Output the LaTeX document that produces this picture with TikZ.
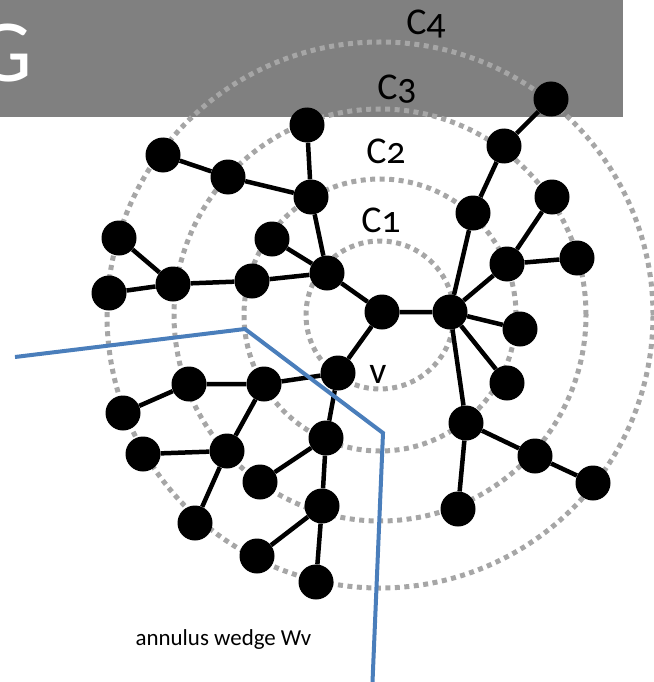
\documentclass[tikz,border=0pt]{standalone}
\usepackage{fontspec}
\setmainfont{Carlito}[Numbers=OldStyle]
\begin{document}
\begin{tikzpicture}[x=1bp,y=-1bp,
  vert/.style={circle,fill=black,minimum size=35bp,inner sep=0pt},
  edge/.style={line width=4.5bp,black},
  ring/.style={line width=5bp,draw={rgb,255:red,166;green,166;blue,166},dash pattern=on 5bp off 4.5bp},
  lab/.style={inner sep=0pt,anchor=base,font=\fontsize{38}{40}\selectfont},
  wedge/.style={line width=4bp,draw={rgb,255:red,74;green,126;blue,187}}]
\useasboundingbox (0,0) rectangle (654,682);
\fill[fill={rgb,255:red,128;green,128;blue,128}] (0,0) rectangle (623,117);
\node[inner sep=0pt,anchor=base east,text=white,font=\fontsize{89}{89}\selectfont] (G) at (33,82) {G};
% rings
\coordinate (ctr) at (380,315);
\draw[ring] (ctr) circle[radius=74bp];
\draw[ring] (ctr) circle[radius=136bp];
\draw[ring] (ctr) circle[radius=206bp];
\draw[ring] (ctr) circle[radius=273bp];
\node[lab] (C1) at (381,232) {C1};
\node[lab] (C2) at (386,163) {C2};
\node[lab] (C3) at (397,100) {C3};
\node[lab] (C4) at (426,35) {C4};
% vertices
\node[vert] (r) at (382,312) {};
\node[vert] (v) at (338,373) {};
\node[vert] (h) at (450,312) {};
\node[vert] (a1) at (473,213) {};
\node[vert] (a2) at (504,146) {};
\node[vert] (a3) at (551,99) {};
\node[vert] (b) at (507,264) {};
\node[vert] (b1) at (552,197) {};
\node[vert] (b2) at (577,258) {};
\node[vert] (c1) at (520,329) {};
\node[vert] (c2) at (507,383) {};
\node[vert] (d) at (466,423) {};
\node[vert] (d1) at (458,509) {};
\node[vert] (d2) at (535,456) {};
\node[vert] (d3) at (593,483) {};
\node[vert] (e) at (327,273) {};
\node[vert] (e1) at (272,239) {};
\node[vert] (f) at (311,197) {};
\node[vert] (f1) at (307,125) {};
\node[vert] (f2) at (228,177) {};
\node[vert] (f3) at (163,155) {};
\node[vert] (g) at (252,281) {};
\node[vert] (g1) at (173,284) {};
\node[vert] (g2) at (119,238) {};
\node[vert] (g3) at (109,293) {};
\node[vert] (k) at (264,384) {};
\node[vert] (k1) at (189,384) {};
\node[vert] (k2) at (123,413) {};
\node[vert] (m) at (227,451) {};
\node[vert] (m1) at (143,454) {};
\node[vert] (m2) at (195,523) {};
\node[vert] (p) at (326,438) {};
\node[vert] (p1) at (260,482) {};
\node[vert] (q) at (322,506) {};
\node[vert] (q1) at (257,556) {};
\node[vert] (q2) at (316,582) {};
% edges
\draw[edge] (r) -- (h) (r) -- (e) (r) -- (v)
  (h) -- (a1) (a1) -- (a2) (a2) -- (a3)
  (h) -- (b) (b) -- (b1) (b) -- (b2)
  (h) -- (c1) (h) -- (c2) (h) -- (d)
  (d) -- (d1) (d) -- (d2) (d2) -- (d3)
  (e) -- (e1) (e) -- (f) (e) -- (g)
  (f) -- (f1) (f) -- (f2) (f2) -- (f3)
  (g) -- (g1) (g1) -- (g2) (g1) -- (g3)
  (v) -- (k) (k) -- (k1) (k1) -- (k2)
  (k) -- (m) (m) -- (m1) (m) -- (m2)
  (v) -- (p) (p) -- (p1) (p) -- (q) (q) -- (q1) (q) -- (q2);
\node[lab] (vl) at (378,383) {v};
% wedge
\coordinate (w0) at (15,357);
\coordinate (w1) at (245,329);
\coordinate (w2) at (383,433);
\coordinate (w3) at (372.5,682);
\draw[wedge] (w0) -- (w1) -- (w2) -- (w3);
\node[inner sep=0pt,anchor=base,font=\fontsize{23}{25}\selectfont] (wl) at (223.5,645) {annulus wedge Wv};
\end{tikzpicture}
\end{document}
